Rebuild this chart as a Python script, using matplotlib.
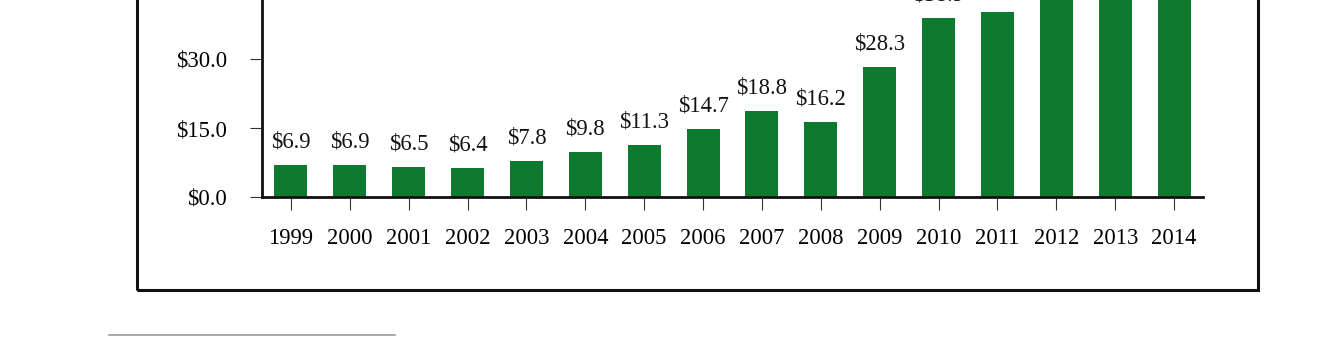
import matplotlib.pyplot as plt
from matplotlib.patches import Rectangle
from matplotlib.lines import Line2D

# Annual values ($), 1999-2014
years = ["1999", "2000", "2001", "2002", "2003", "2004", "2005", "2006",
         "2007", "2008", "2009", "2010", "2011", "2012", "2013", "2014"]
values = [6.9, 6.9, 6.5, 6.4, 7.8, 9.8, 11.3, 14.7,
          18.8, 16.2, 28.3, 38.9, 40.2, 46.5, 50.1, 53.8]
yticks = [0, 15, 30]

plt.rcParams["font.family"] = ["Liberation Serif", "DejaVu Serif"]

fig = plt.figure(figsize=(13.43, 3.47), dpi=100)
W, H = 1343, 347

# axes in pixel terms, top runs off the figure
left, right, bottom = 262, 1203, 197
px_per_unit = 4.6
ymax = 60
ax = fig.add_axes([left / W, (H - bottom) / H, (right - left) / W,
                   ymax * px_per_unit / H])

pos = range(len(years))
ax.bar(pos, values, width=0.56, color="#0e7a30", zorder=2)
for x, v in zip(pos, values):
    ax.annotate(f"${v:.1f}", (x, v), xytext=(0, 9), textcoords="offset points",
                ha="center", va="bottom", fontsize=16.3, color="#111111")

ax.set_xlim(-0.49, len(years) - 0.51)
ax.set_ylim(0, ymax)
ax.set_xticks(list(pos))
ax.set_xticklabels(years)
ax.set_yticks(yticks)
ax.set_yticklabels([f"${t:.1f}" for t in yticks])
ax.tick_params(axis="x", length=9, width=0.8, pad=13, labelsize=16.3,
               color="#333333", direction="out")
ax.tick_params(axis="y", length=9, width=0.8, pad=16, labelsize=16.3,
               color="#333333", direction="out")
for s in ["top", "right"]:
    ax.spines[s].set_visible(False)
for s in ["left", "bottom"]:
    ax.spines[s].set_linewidth(2)
    ax.spines[s].set_color("#111111")

# outer frame around the chart
fig.patches.append(Rectangle((137 / W, (H - 290) / H), (1258 - 137) / W, 1.0,
                             transform=fig.transFigure, fill=False,
                             edgecolor="#111111", linewidth=2.2))
# footnote rule
fig.lines.append(Line2D([109 / W, 395 / W], [(H - 335) / H, (H - 335) / H],
                        transform=fig.transFigure, color="#999999", linewidth=1.2))

fig.savefig("out.png", dpi=100)
